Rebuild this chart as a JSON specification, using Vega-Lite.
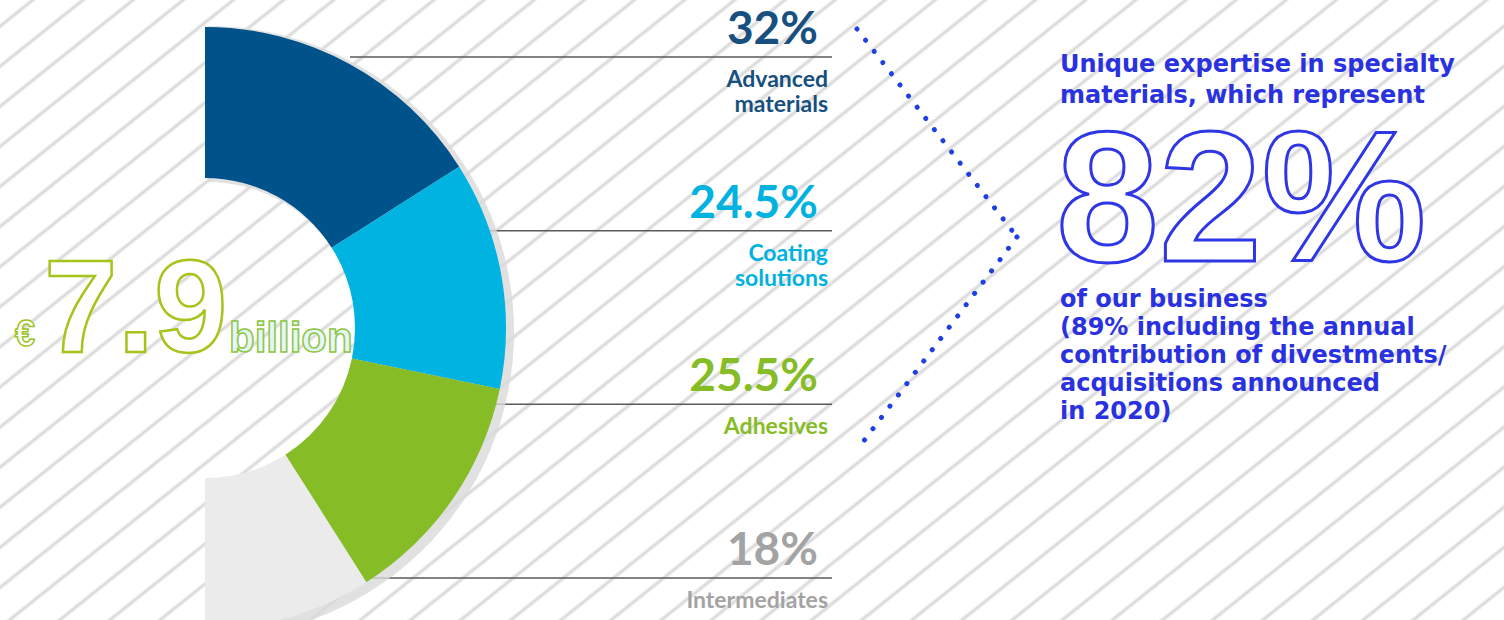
{
  "$schema": "https://vega.github.io/schema/vega-lite/v6.json",
  "width": 1504,
  "height": 620,
  "autosize": {"type": "none"},
  "padding": 0,
  "background": "#ffffff",
  "view": {
    "stroke": null,
    "fill": {
      "gradient": "linear", "x1": 0, "y1": 0, "x2": 1.197, "y2": 0.617,
      "stops": [
        {"offset": 0, "color": "#ffffff"},
        {"offset": 0.0124, "color": "#ffffff"}, {"offset": 0.0144, "color": "#d6d6d6"}, {"offset": 0.0164, "color": "#ffffff"},
        {"offset": 0.0344, "color": "#ffffff"}, {"offset": 0.0364, "color": "#d6d6d6"}, {"offset": 0.0384, "color": "#ffffff"},
        {"offset": 0.0564, "color": "#ffffff"}, {"offset": 0.0584, "color": "#d6d6d6"}, {"offset": 0.0604, "color": "#ffffff"},
        {"offset": 0.0784, "color": "#ffffff"}, {"offset": 0.0804, "color": "#d6d6d6"}, {"offset": 0.0824, "color": "#ffffff"},
        {"offset": 0.1004, "color": "#ffffff"}, {"offset": 0.1024, "color": "#d6d6d6"}, {"offset": 0.1044, "color": "#ffffff"},
        {"offset": 0.1224, "color": "#ffffff"}, {"offset": 0.1244, "color": "#d6d6d6"}, {"offset": 0.1264, "color": "#ffffff"},
        {"offset": 0.1444, "color": "#ffffff"}, {"offset": 0.1464, "color": "#d6d6d6"}, {"offset": 0.1484, "color": "#ffffff"},
        {"offset": 0.1664, "color": "#ffffff"}, {"offset": 0.1684, "color": "#d6d6d6"}, {"offset": 0.1704, "color": "#ffffff"},
        {"offset": 0.1884, "color": "#ffffff"}, {"offset": 0.1904, "color": "#d6d6d6"}, {"offset": 0.1924, "color": "#ffffff"},
        {"offset": 0.2104, "color": "#ffffff"}, {"offset": 0.2124, "color": "#d6d6d6"}, {"offset": 0.2144, "color": "#ffffff"},
        {"offset": 0.2324, "color": "#ffffff"}, {"offset": 0.2344, "color": "#d6d6d6"}, {"offset": 0.2364, "color": "#ffffff"},
        {"offset": 0.2544, "color": "#ffffff"}, {"offset": 0.2564, "color": "#d6d6d6"}, {"offset": 0.2584, "color": "#ffffff"},
        {"offset": 0.2764, "color": "#ffffff"}, {"offset": 0.2784, "color": "#d6d6d6"}, {"offset": 0.2804, "color": "#ffffff"},
        {"offset": 0.2984, "color": "#ffffff"}, {"offset": 0.3004, "color": "#d6d6d6"}, {"offset": 0.3024, "color": "#ffffff"},
        {"offset": 0.3204, "color": "#ffffff"}, {"offset": 0.3224, "color": "#d6d6d6"}, {"offset": 0.3244, "color": "#ffffff"},
        {"offset": 0.3424, "color": "#ffffff"}, {"offset": 0.3444, "color": "#d6d6d6"}, {"offset": 0.3464, "color": "#ffffff"},
        {"offset": 0.3644, "color": "#ffffff"}, {"offset": 0.3664, "color": "#d6d6d6"}, {"offset": 0.3684, "color": "#ffffff"},
        {"offset": 0.3864, "color": "#ffffff"}, {"offset": 0.3884, "color": "#d6d6d6"}, {"offset": 0.3904, "color": "#ffffff"},
        {"offset": 0.4084, "color": "#ffffff"}, {"offset": 0.4104, "color": "#d6d6d6"}, {"offset": 0.4124, "color": "#ffffff"},
        {"offset": 0.4304, "color": "#ffffff"}, {"offset": 0.4324, "color": "#d6d6d6"}, {"offset": 0.4344, "color": "#ffffff"},
        {"offset": 0.4524, "color": "#ffffff"}, {"offset": 0.4544, "color": "#d6d6d6"}, {"offset": 0.4564, "color": "#ffffff"},
        {"offset": 0.4744, "color": "#ffffff"}, {"offset": 0.4764, "color": "#d6d6d6"}, {"offset": 0.4784, "color": "#ffffff"},
        {"offset": 0.4964, "color": "#ffffff"}, {"offset": 0.4984, "color": "#d6d6d6"}, {"offset": 0.5004, "color": "#ffffff"},
        {"offset": 0.5184, "color": "#ffffff"}, {"offset": 0.5204, "color": "#d6d6d6"}, {"offset": 0.5224, "color": "#ffffff"},
        {"offset": 0.5404, "color": "#ffffff"}, {"offset": 0.5424, "color": "#d6d6d6"}, {"offset": 0.5444, "color": "#ffffff"},
        {"offset": 0.5624, "color": "#ffffff"}, {"offset": 0.5644, "color": "#d6d6d6"}, {"offset": 0.5664, "color": "#ffffff"},
        {"offset": 0.5844, "color": "#ffffff"}, {"offset": 0.5864, "color": "#d6d6d6"}, {"offset": 0.5884, "color": "#ffffff"},
        {"offset": 0.6064, "color": "#ffffff"}, {"offset": 0.6084, "color": "#d6d6d6"}, {"offset": 0.6104, "color": "#ffffff"},
        {"offset": 0.6284, "color": "#ffffff"}, {"offset": 0.6304, "color": "#d6d6d6"}, {"offset": 0.6324, "color": "#ffffff"},
        {"offset": 0.6504, "color": "#ffffff"}, {"offset": 0.6524, "color": "#d6d6d6"}, {"offset": 0.6544, "color": "#ffffff"},
        {"offset": 0.6724, "color": "#ffffff"}, {"offset": 0.6744, "color": "#d6d6d6"}, {"offset": 0.6764, "color": "#ffffff"},
        {"offset": 0.6944, "color": "#ffffff"}, {"offset": 0.6964, "color": "#d6d6d6"}, {"offset": 0.6984, "color": "#ffffff"},
        {"offset": 0.7164, "color": "#ffffff"}, {"offset": 0.7184, "color": "#d6d6d6"}, {"offset": 0.7204, "color": "#ffffff"},
        {"offset": 0.7384, "color": "#ffffff"}, {"offset": 0.7404, "color": "#d6d6d6"}, {"offset": 0.7424, "color": "#ffffff"},
        {"offset": 0.7604, "color": "#ffffff"}, {"offset": 0.7624, "color": "#d6d6d6"}, {"offset": 0.7644, "color": "#ffffff"},
        {"offset": 0.7824, "color": "#ffffff"}, {"offset": 0.7844, "color": "#d6d6d6"}, {"offset": 0.7864, "color": "#ffffff"},
        {"offset": 0.8044, "color": "#ffffff"}, {"offset": 0.8064, "color": "#d6d6d6"}, {"offset": 0.8084, "color": "#ffffff"},
        {"offset": 0.8264, "color": "#ffffff"}, {"offset": 0.8284, "color": "#d6d6d6"}, {"offset": 0.8304, "color": "#ffffff"},
        {"offset": 0.8484, "color": "#ffffff"}, {"offset": 0.8504, "color": "#d6d6d6"}, {"offset": 0.8524, "color": "#ffffff"},
        {"offset": 0.8704, "color": "#ffffff"}, {"offset": 0.8724, "color": "#d6d6d6"}, {"offset": 0.8744, "color": "#ffffff"},
        {"offset": 0.8924, "color": "#ffffff"}, {"offset": 0.8944, "color": "#d6d6d6"}, {"offset": 0.8964, "color": "#ffffff"},
        {"offset": 0.9144, "color": "#ffffff"}, {"offset": 0.9164, "color": "#d6d6d6"}, {"offset": 0.9184, "color": "#ffffff"},
        {"offset": 0.9364, "color": "#ffffff"}, {"offset": 0.9384, "color": "#d6d6d6"}, {"offset": 0.9404, "color": "#ffffff"},
        {"offset": 0.9584, "color": "#ffffff"}, {"offset": 0.9604, "color": "#d6d6d6"}, {"offset": 0.9624, "color": "#ffffff"},
        {"offset": 0.9804, "color": "#ffffff"}, {"offset": 0.9824, "color": "#d6d6d6"}, {"offset": 0.9844, "color": "#ffffff"},
        {"offset": 1, "color": "#ffffff"}
      ]
    }
  },
  "config": {"axis": {"disable": true}, "legend": {"disable": true}},
  "datasets": {
    "seg": [
      {"category": "Advanced materials", "rank": 1, "pct": 32, "label": "32%", "name": "Advanced\nmaterials"},
      {"category": "Coating solutions", "rank": 2, "pct": 24.5, "label": "24.5%", "name": "Coating\nsolutions"},
      {"category": "Adhesives", "rank": 3, "pct": 25.5, "label": "25.5%", "name": "Adhesives"},
      {"category": "Intermediates", "rank": 4, "pct": 18, "label": "18%", "name": "Intermediates"}
    ],
    "one": [{"k": 1}]
  },
  "resolve": {"scale": {"y": "independent", "color": "independent"}},
  "layer": [
    {
      "data": {"name": "seg"},
      "mark": {"type": "rule", "color": "#5a5a5a", "strokeWidth": 1.5},
      "encoding": {
        "y": {"field": "category", "type": "nominal", "scale": {"type": "point", "domain": ["Advanced materials", "Coating solutions", "Adhesives", "Intermediates"], "range": [57, 578], "padding": 0}},
        "x": {"datum": 350, "type": "quantitative", "scale": {"domain": [0, 1504], "nice": false, "zero": false}},
        "x2": {"datum": 832}
      }
    },
    {
      "data": {"name": "seg"},
      "mark": {"type": "arc", "innerRadius": 150, "outerRadius": 306, "color": "#d9d9d9", "opacity": 0.8},
      "encoding": {
        "theta": {"field": "pct", "type": "quantitative", "stack": true, "scale": {"range": [0, 3.14159]}},
        "order": {"field": "rank", "type": "quantitative"},
        "x": {"datum": 208, "type": "quantitative", "scale": {"domain": [0, 1504], "nice": false, "zero": false}},
        "y": {"datum": 332, "type": "quantitative", "scale": {"domain": [0, 620], "reverse": true, "nice": false, "zero": false}}
      }
    },
    {
      "data": {"name": "seg"},
      "mark": {"type": "arc", "innerRadius": 150, "outerRadius": 301},
      "encoding": {
        "theta": {"field": "pct", "type": "quantitative", "stack": true, "scale": {"range": [0, 3.14159]}},
        "order": {"field": "rank", "type": "quantitative"},
        "color": {"field": "category", "type": "nominal", "scale": {"domain": ["Advanced materials", "Coating solutions", "Adhesives", "Intermediates"], "range": ["#00528a", "#00b3e0", "#86bc25", "#ebebeb"]}, "legend": null},
        "x": {"datum": 205, "type": "quantitative", "scale": {"domain": [0, 1504], "nice": false, "zero": false}},
        "y": {"datum": 328, "type": "quantitative", "scale": {"domain": [0, 620], "reverse": true, "nice": false, "zero": false}}
      }
    },
    {
      "data": {"name": "seg"},
      "mark": {"type": "text", "align": "right", "baseline": "alphabetic", "dy": -13, "font": "Lato", "fontWeight": "bold", "fontSize": 46},
      "encoding": {
        "text": {"field": "label", "type": "nominal"},
        "y": {"field": "category", "type": "nominal", "scale": {"type": "point", "domain": ["Advanced materials", "Coating solutions", "Adhesives", "Intermediates"], "range": [57, 578], "padding": 0}},
        "x": {"datum": 818, "type": "quantitative", "scale": {"domain": [0, 1504], "nice": false, "zero": false}},
        "color": {"field": "category", "type": "nominal", "scale": {"domain": ["Advanced materials", "Coating solutions", "Adhesives", "Intermediates"], "range": ["#17507f", "#00b2e0", "#86bc25", "#a3a3a3"]}, "legend": null}
      }
    },
    {
      "data": {"name": "seg"},
      "mark": {"type": "text", "align": "right", "baseline": "alphabetic", "dy": 30, "lineBreak": "\n", "lineHeight": 25, "font": "Lato", "fontWeight": "bold", "fontSize": 23},
      "encoding": {
        "text": {"field": "name", "type": "nominal"},
        "y": {"field": "category", "type": "nominal", "scale": {"type": "point", "domain": ["Advanced materials", "Coating solutions", "Adhesives", "Intermediates"], "range": [57, 578], "padding": 0}},
        "x": {"datum": 828, "type": "quantitative", "scale": {"domain": [0, 1504], "nice": false, "zero": false}},
        "color": {"field": "category", "type": "nominal", "scale": {"domain": ["Advanced materials", "Coating solutions", "Adhesives", "Intermediates"], "range": ["#17507f", "#00b2e0", "#86bc25", "#a3a3a3"]}, "legend": null}
      }
    },
    {
      "data": {"name": "one"},
      "mark": {"type": "text", "align": "left", "baseline": "alphabetic", "font": "Liberation Sans", "fontWeight": "bold", "fontSize": 36, "fill": "#ffffff", "stroke": "#9cc31e", "strokeWidth": 1.5},
      "encoding": {
        "text": {"value": "€"},
        "x": {"datum": 15, "type": "quantitative", "scale": {"domain": [0, 1504], "nice": false, "zero": false}},
        "y": {"datum": 346, "type": "quantitative", "scale": {"domain": [0, 620], "reverse": true, "nice": false, "zero": false}}
      }
    },
    {
      "data": {"name": "one"},
      "mark": {"type": "text", "align": "left", "baseline": "alphabetic", "font": "Liberation Sans", "fontWeight": "bold", "fontSize": 132, "fill": "#ffffff", "stroke": "#a5c51c", "strokeWidth": 2.5},
      "encoding": {
        "text": {"value": "7.9"},
        "x": {"datum": 44, "type": "quantitative", "scale": {"domain": [0, 1504], "nice": false, "zero": false}},
        "y": {"datum": 352, "type": "quantitative", "scale": {"domain": [0, 620], "reverse": true, "nice": false, "zero": false}}
      }
    },
    {
      "data": {"name": "one"},
      "mark": {"type": "text", "align": "left", "baseline": "alphabetic", "font": "Liberation Sans", "fontWeight": "bold", "fontSize": 42, "fill": "#e4f6fa", "stroke": "#8dc63f", "strokeWidth": 1.5},
      "encoding": {
        "text": {"value": "billion"},
        "x": {"datum": 229, "type": "quantitative", "scale": {"domain": [0, 1504], "nice": false, "zero": false}},
        "y": {"datum": 352, "type": "quantitative", "scale": {"domain": [0, 620], "reverse": true, "nice": false, "zero": false}}
      }
    },
    {
      "data": {"name": "one"},
      "mark": {"type": "rule", "color": "#1f3fe0", "strokeWidth": 5, "strokeCap": "round", "strokeDash": [0.1, 14]},
      "encoding": {
        "x": {"datum": 857, "type": "quantitative", "scale": {"domain": [0, 1504], "nice": false, "zero": false}},
        "x2": {"datum": 1017},
        "y": {"datum": 29, "type": "quantitative", "scale": {"domain": [0, 620], "reverse": true, "nice": false, "zero": false}},
        "y2": {"datum": 237}
      }
    },
    {
      "data": {"name": "one"},
      "mark": {"type": "rule", "color": "#1f3fe0", "strokeWidth": 5, "strokeCap": "round", "strokeDash": [0.1, 14]},
      "encoding": {
        "x": {"datum": 1017, "type": "quantitative", "scale": {"domain": [0, 1504], "nice": false, "zero": false}},
        "x2": {"datum": 857},
        "y": {"datum": 237, "type": "quantitative", "scale": {"domain": [0, 620], "reverse": true, "nice": false, "zero": false}},
        "y2": {"datum": 450}
      }
    },
    {
      "data": {"name": "one"},
      "mark": {"type": "text", "align": "left", "baseline": "alphabetic", "lineBreak": "\n", "lineHeight": 31, "font": "DejaVu Sans", "fontWeight": "bold", "fontSize": 24, "color": "#2a32e0"},
      "encoding": {
        "text": {"value": "Unique expertise in specialty\nmaterials, which represent"},
        "x": {"datum": 1060, "type": "quantitative", "scale": {"domain": [0, 1504], "nice": false, "zero": false}},
        "y": {"datum": 72, "type": "quantitative", "scale": {"domain": [0, 620], "reverse": true, "nice": false, "zero": false}}
      }
    },
    {
      "data": {"name": "one"},
      "mark": {"type": "text", "align": "left", "baseline": "alphabetic", "font": "Liberation Sans", "fontWeight": "bold", "fontSize": 185, "fill": "#ffffff", "stroke": "#2f36e6", "strokeWidth": 3},
      "encoding": {
        "text": {"value": "82%"},
        "x": {"datum": 1056, "type": "quantitative", "scale": {"domain": [0, 1504], "nice": false, "zero": false}},
        "y": {"datum": 261, "type": "quantitative", "scale": {"domain": [0, 620], "reverse": true, "nice": false, "zero": false}}
      }
    },
    {
      "data": {"name": "one"},
      "mark": {"type": "text", "align": "left", "baseline": "alphabetic", "lineBreak": "\n", "lineHeight": 28, "font": "DejaVu Sans", "fontWeight": "bold", "fontSize": 24, "color": "#2a32e0"},
      "encoding": {
        "text": {"value": "of our business\n(89% including the annual\ncontribution of divestments/\nacquisitions announced\nin 2020)"},
        "x": {"datum": 1060, "type": "quantitative", "scale": {"domain": [0, 1504], "nice": false, "zero": false}},
        "y": {"datum": 307, "type": "quantitative", "scale": {"domain": [0, 620], "reverse": true, "nice": false, "zero": false}}
      }
    }
  ]
}
